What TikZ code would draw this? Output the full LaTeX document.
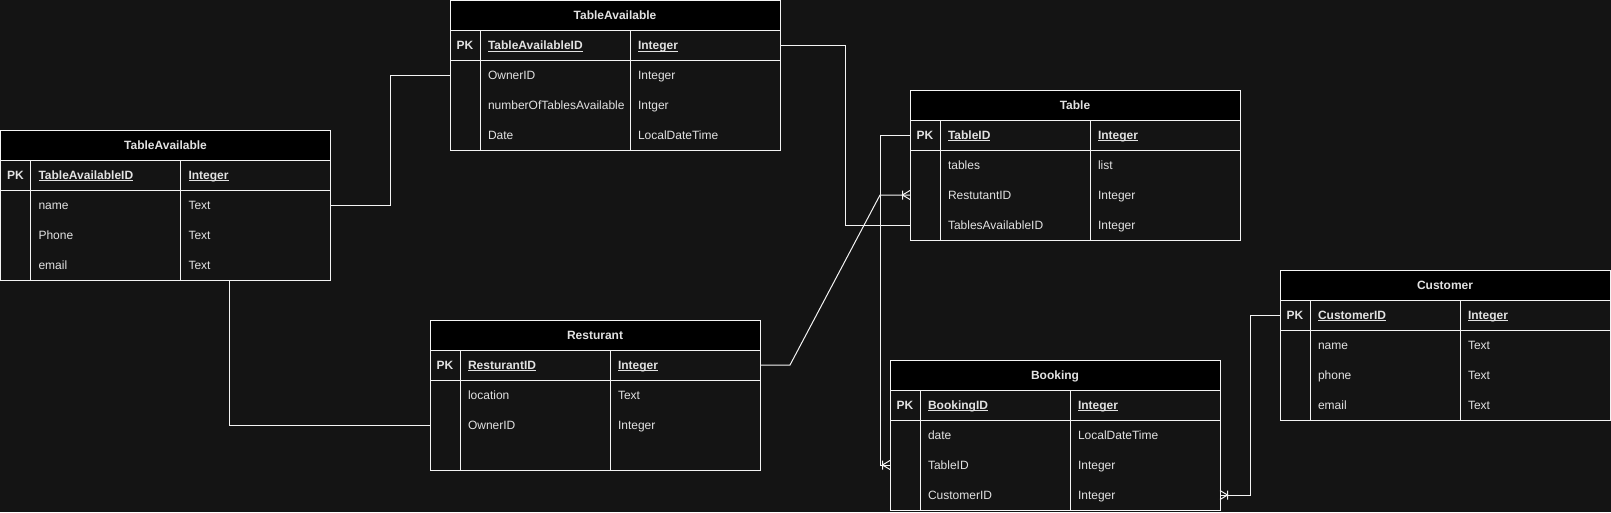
\documentclass[tikz,border=0pt]{standalone}
\usepackage{fontspec}
\setmainfont{Liberation Sans}
\usetikzlibrary{calc}
\definecolor{bg}{HTML}{141414}
\definecolor{fg}{HTML}{E2E2E2}
\definecolor{linec}{HTML}{F4F4F4}
\newcommand\myul[1]{\setbox0\hbox{#1}\rlap{\rule[-2.2pt]{\wd0}{1pt}}\box0}
\tikzset{
  every node/.style={font=\fontsize{12}{14}\selectfont, text=fg, inner sep=0pt, outer sep=0pt},
  tablebox/.style={draw=linec, line width=1pt, fill=bg, minimum width=330pt, minimum height=150pt, anchor=north west},
  headbox/.style={draw=linec, line width=1pt, fill=black, minimum width=330pt, minimum height=30pt, anchor=north west},
  rowbox/.style={minimum width=330pt, minimum height=30pt, anchor=north west},
  pkrow/.style={rowbox, draw=linec, line width=1pt},
  lbl/.style={anchor=base west},
  keylbl/.style={anchor=base west, font=\fontsize{12}{14}\selectfont\bfseries},
  titlelbl/.style={anchor=base, font=\fontsize{12}{14}\selectfont\bfseries},
  divider/.style={draw=linec, line width=1pt},
  conn/.style={draw=linec, line width=1pt},
}
\newcommand\entity[6]{%
  \node[tablebox] (#1) at (#2,#3) {};
  \node[headbox] (#1-h) at (#2,#3) {};
  \node[pkrow] (#1-pk) at (#2,#3+30) {};
  \node[rowbox] (#1-r1) at (#2,#3+60) {};
  \node[rowbox] (#1-r2) at (#2,#3+90) {};
  \node[rowbox] (#1-r3) at (#2,#3+120) {};
  \draw[divider] (#2+30,#3+30) -- (#2+30,#3+150) (#2+180,#3+30) -- (#2+180,#3+150);
  \node[titlelbl] (#1-title) at ($(#1-h.center)+(0,4)$) {#4};
  \node[titlelbl] (#1-pkk) at ($(#1-pk.west)+(15,4)$) {PK};
  \node[keylbl] (#1-pkn) at ($(#1-pk.west)+(38,4)$) {\myul{#5}};
  \node[keylbl] (#1-pkt) at ($(#1-pk.west)+(188,4)$) {\myul{#6}};
}
\newcommand\field[4]{%
  \node[lbl] (#1-n#2) at ($(#1-r#2.west)+(38,4)$) {#3};
  \node[lbl] (#1-t#2) at ($(#1-r#2.west)+(188,4)$) {#4};
}
\newcommand\crowfoot[2]{%
  \draw[conn] ($(#1)+(#2,-4.5)$) -- ($(#1)+(#2,4.5)$)
    ($(#1)+(0,-4.5)$) -- ($(#1)+(#2,0)$) -- ($(#1)+(0,4.5)$);
}
\begin{document}
\begin{tikzpicture}[x=1pt, y=-1pt]
  \useasboundingbox (0,0) rectangle (1611,512);
  \fill[bg] (0,0) rectangle (1611,512);

  \entity{tt}{450}{0.5}{TableAvailable}{TableAvailableID}{Integer}
  \field{tt}{1}{OwnerID}{Integer}
  \field{tt}{2}{numberOfTablesAvailable}{Intger}
  \field{tt}{3}{Date}{LocalDateTime}

  \entity{lt}{0.5}{130}{TableAvailable}{TableAvailableID}{Integer}
  \field{lt}{1}{name}{Text}
  \field{lt}{2}{Phone}{Text}
  \field{lt}{3}{email}{Text}

  \entity{rs}{430}{320}{Resturant}{ResturantID}{Integer}
  \field{rs}{1}{location}{Text}
  \field{rs}{2}{OwnerID}{Integer}

  \entity{tb}{910}{90}{Table}{TableID}{Integer}
  \field{tb}{1}{tables}{list}
  \field{tb}{2}{RestutantID}{Integer}
  \field{tb}{3}{TablesAvailableID}{Integer}

  \entity{bk}{890}{360}{Booking}{BookingID}{Integer}
  \field{bk}{1}{date}{LocalDateTime}
  \field{bk}{2}{TableID}{Integer}
  \field{bk}{3}{CustomerID}{Integer}

  \entity{cu}{1280}{270}{Customer}{CustomerID}{Integer}
  \field{cu}{1}{name}{Text}
  \field{cu}{2}{phone}{Text}
  \field{cu}{3}{email}{Text}

  % connectors
  \draw[conn] (lt-r1.east) -- ++(60,0) |- (tt-r1.west);
  \draw[conn] (tt-pk.east) -- ++(65,0) |- (tb-r3.west);
  \draw[conn] ($(lt.south west)+(229,0)$) |- (rs-r2.west);
  \draw[conn] (rs-pk.east) -- ++(30,0) -- ($(tb-r2.west)+(-30,0)$) -- (tb-r2.west);
  \draw[conn] (tb-pk.west) -- ++(-30,0) |- (bk-r2.west);
  \draw[conn] (cu-pk.west) -- ++(-30,0) |- (bk-r3.east);
  \crowfoot{tb-r2.west}{-7.5}
  \crowfoot{bk-r2.west}{-7.5}
  \crowfoot{bk-r3.east}{7.5}
\end{tikzpicture}
\end{document}
